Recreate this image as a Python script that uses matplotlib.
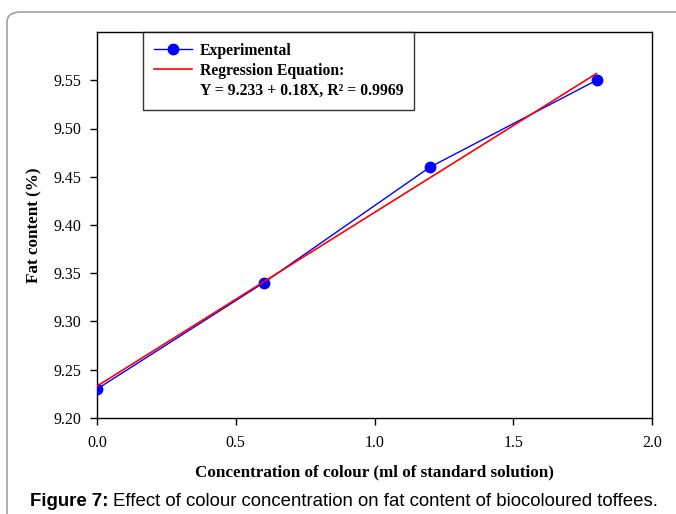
import matplotlib.pyplot as plt
from matplotlib.lines import Line2D
from matplotlib.patches import FancyBboxPatch

conc = [0.0, 0.6, 1.2, 1.8]
fat = [9.23, 9.34, 9.46, 9.55]
intercept = 9.233
slope = 0.18
xticks = [0.0, 0.5, 1.0, 1.5, 2.0]
yticks = [9.20, 9.25, 9.30, 9.35, 9.40, 9.45, 9.50, 9.55]

W, H = 676, 514
fig = plt.figure(figsize=(W / 100, H / 100), dpi=100)

# outer rounded frame, only top-left corner visible
frame = FancyBboxPatch((7 / W, -0.2), 1.2, 1.2 - 12 / H,
                       boxstyle="round,pad=0,rounding_size=0.02",
                       transform=fig.transFigure, fill=False,
                       edgecolor='#a0a0a0', linewidth=1.2)
fig.patches.append(frame)

ax = fig.add_axes([97 / W, 1 - 418 / H, (652 - 97) / W, (418 - 32) / H])

serif = 'Liberation Serif'
fit_x = [conc[0], conc[-1]]
fit_y = [intercept + slope * v for v in fit_x]

ax.plot(conc, fat, color='blue', linewidth=1, marker='o', markersize=7.5, zorder=3)
ax.plot(fit_x, fit_y, color='red', linewidth=1.2, zorder=4)

ax.set_xlim(0, 2.0)
ax.set_ylim(9.20, 9.60)
ax.set_xticks(xticks)
ax.set_xticklabels([f'{v:.1f}' for v in xticks], fontfamily=serif, fontsize=11.5)
ax.set_yticks(yticks)
ax.set_yticklabels([f'{v:.2f}' for v in yticks], fontfamily=serif, fontsize=11.5)
ax.tick_params(direction='out', length=5, width=1)
ax.tick_params(axis='y', pad=6)
ax.tick_params(axis='x', pad=7)
for s in ax.spines.values():
    s.set_linewidth(1)

ax.set_xlabel('Concentration of colour (ml of standard solution)', fontfamily=serif,
              fontsize=12.3, fontweight='bold', labelpad=10)
ax.set_ylabel('Fat content (%)', fontfamily=serif, fontsize=12.3, fontweight='bold',
              labelpad=8)

handles = [
    Line2D([], [], color='blue', linewidth=1, marker='o', markersize=7.5),
    Line2D([], [], color='red', linewidth=1.2),
    Line2D([], [], color='none'),
]
labels = ['Experimental', 'Regression Equation:', 'Y = 9.233 + 0.18X, R² = 0.9969']
leg = ax.legend(handles, labels, loc='upper left', bbox_to_anchor=((143 - 97) / (652 - 97), 1.0),
                frameon=True, fancybox=False, edgecolor='black', borderpad=0.7,
                borderaxespad=0, handlelength=2.4, handletextpad=0.5, labelspacing=0.25,
                prop={'family': serif, 'size': 11.3, 'weight': 'bold'})
leg.get_frame().set_linewidth(1)

fig.text(30 / W, 1 - 501 / H, 'Figure 7:', fontsize=13.4, family='Liberation Sans',
         fontweight='bold', va='center')
fig.text(113 / W, 1 - 501 / H, 'Effect of colour concentration on fat content of biocoloured toffees.',
         fontsize=13.4, family='Liberation Sans', va='center')

fig.savefig('out.png', dpi=100)
